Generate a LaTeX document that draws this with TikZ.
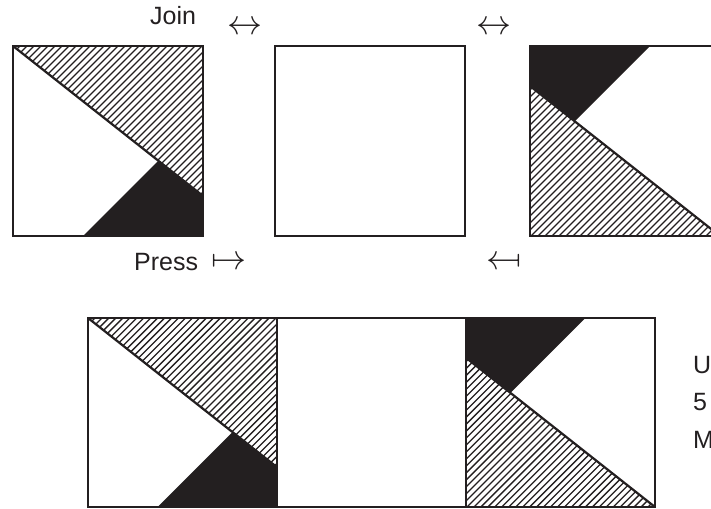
\documentclass[tikz,border=0pt]{standalone}
\usepackage{fontspec}
\usepackage{graphicx}
\setmainfont{Liberation Sans}
\definecolor{ink}{RGB}{35,31,32}
\tikzset{
  tileborder/.style={draw=ink, line width=2.4pt},
  hatchline/.style={draw=ink, line width=1.3pt},
  cutline/.style={draw=ink, line width=2.2pt},
  txt/.style={text=ink, font=\fontsize{25}{30}\selectfont, inner sep=0pt},
  arrowsym/.style={text=ink, inner sep=0pt, anchor=base},
}
\newcommand\tilepattern{%
  \fill[ink] (70,190) -- (145.3,114.7) -- (190,150) -- (190,190) -- cycle;
  \begin{scope}
    \clip (0,0) -- (190,0) -- (190,150) -- cycle;
    \foreach \c in {0,7,...,420} \draw[hatchline] (\c,0) -- ++(-220,220);
  \end{scope}
  \draw[cutline] (0,0) -- (190,150);
  \draw[tileborder] (0,0) rectangle (190,190);
}
\newcommand\bigsym[1]{\scalebox{3.5}{#1}}
\begin{document}
\begin{tikzpicture}[x=1pt,y=-1pt]
\useasboundingbox (0,0) rectangle (711,508);
\clip (0,0) rectangle (711,508);
% top row
\begin{scope}[shift={(13,46)}]\tilepattern\end{scope}
\draw[tileborder] (275,46) rectangle (465,236);
\begin{scope}[shift={(720,236)},rotate=180]\tilepattern\end{scope}
% bottom row
\begin{scope}[shift={(88,318)},scale=0.995]\tilepattern\end{scope}
\draw[tileborder] (277,318) rectangle (466,507);
\begin{scope}[shift={(655,507)},rotate=180,scale=0.995]\tilepattern\end{scope}
% labels
\node[txt, anchor=base west] (join) at (150,25) {Join};
\node[arrowsym] (arrowA) at (245,34.75) {\bigsym{$\leftrightarrow$}};
\node[arrowsym] (arrowB) at (493.5,34.75) {\bigsym{$\leftrightarrow$}};
\node[txt, anchor=base west] (press) at (134,270.7) {Press};
\node[arrowsym] (arrowC) at (229,269.75) {\bigsym{$\mapsto$}};
\node[arrowsym] (arrowD) at (504,269.75) {\bigsym{\reflectbox{$\mapsto$}}};
\node[txt, anchor=base west] (lineU) at (693,373) {U};
\node[txt, anchor=base west] (line5) at (693,410.5) {5};
\node[txt, anchor=base west] (lineM) at (693,448) {M};
\end{tikzpicture}
\end{document}
